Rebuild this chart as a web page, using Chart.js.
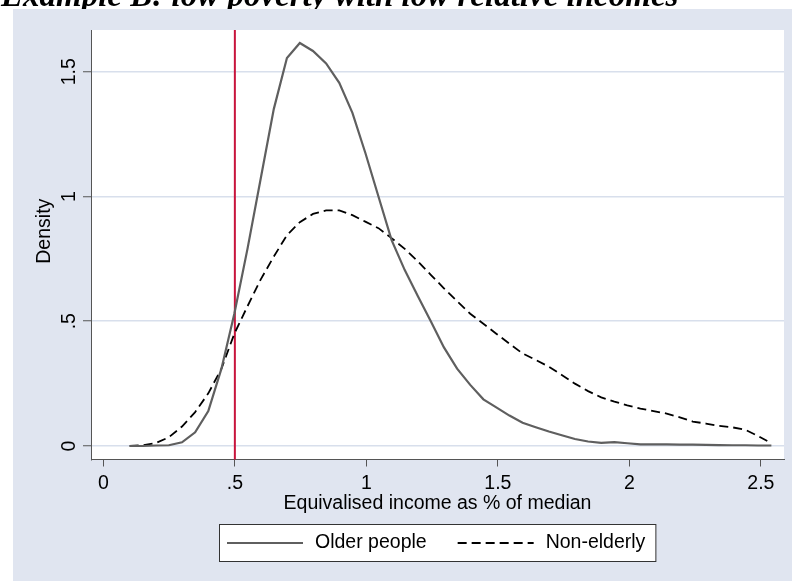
<!DOCTYPE html>
<html>
<head>
<meta charset="utf-8">
<script src="https://cdn.jsdelivr.net/npm/chart.js@4.4.0/dist/chart.umd.min.js"></script>
<style>
  html, body { margin: 0; padding: 0; background: #fff; }
  #wrap { width: 792px; height: 581px; }
</style>
</head>
<body>
<div id="wrap"><canvas id="c" width="792" height="581"></canvas></div>
<script>
// Kernel density estimates of equivalised income (share of median)
const incomeGrid = [0.100,0.150,0.200,0.249,0.299,0.349,0.399,0.449,0.498,0.548,
                    0.598,0.648,0.698,0.747,0.797,0.847,0.897,0.947,0.996,1.046,
                    1.096,1.146,1.196,1.245,1.295,1.345,1.395,1.445,1.494,1.544,
                    1.594,1.644,1.694,1.743,1.793,1.843,1.893,1.943,1.992,2.042,
                    2.092,2.142,2.192,2.241,2.291,2.341,2.391,2.441,2.490,2.540];

const olderPeople = [0.000,0.000,0.002,0.003,0.015,0.055,0.140,0.310,0.530,0.790,
                     1.070,1.350,1.555,1.615,1.583,1.533,1.455,1.335,1.175,1.000,
                     0.825,0.705,0.600,0.500,0.395,0.310,0.245,0.187,0.155,0.122,
                     0.093,0.075,0.058,0.043,0.028,0.018,0.013,0.016,0.011,0.007,
                     0.007,0.007,0.006,0.006,0.005,0.004,0.003,0.003,0.002,0.002];

const nonElderly = [0.000,0.003,0.012,0.035,0.078,0.136,0.211,0.310,0.450,0.560,
                    0.667,0.759,0.845,0.897,0.930,0.944,0.944,0.925,0.899,0.873,
                    0.833,0.790,0.740,0.686,0.632,0.580,0.530,0.490,0.450,0.410,
                    0.371,0.345,0.318,0.285,0.250,0.220,0.195,0.178,0.163,0.150,
                    0.140,0.130,0.115,0.098,0.090,0.081,0.075,0.065,0.040,0.011];

const seriesNames = ['Older people', 'Non-elderly'];
const xTicks = [0, 0.5, 1, 1.5, 2, 2.5];
const xTickLabels = ['0', '.5', '1', '1.5', '2', '2.5'];
const yTicks = [0, 0.5, 1, 1.5];
const yTickLabels = ['0', '.5', '1', '1.5'];
const povertyLine = 0.5;
const titleText = 'Example B: low poverty with low relative incomes';
const xTitle = 'Equivalised income as % of median';
// leading spaces lift the rotated axis title a little above the axis centre
const yTitle = '     Density';

const FONT = 'Liberation Sans';
const FS = 19.5;
const REGION = '#e0e5f0';
const GRID = '#d8dfec';
const AXIS = '#555555';

const toPoints = ys => incomeGrid.map((x, i) => ({ x: x, y: ys[i] }));

// Page background, heading, graph region and white plot region
const framePlugin = {
  id: 'frame',
  beforeDraw(chart) {
    const { ctx, chartArea: a, width, height } = chart;
    ctx.save();
    ctx.fillStyle = '#ffffff';
    ctx.fillRect(0, 0, width, height);
    ctx.fillStyle = '#000000';
    ctx.font = 'italic bold 33px "Liberation Serif"';
    ctx.textBaseline = 'alphabetic';
    ctx.textAlign = 'left';
    ctx.fillText(titleText, 1, 5.5);
    ctx.fillStyle = REGION;
    ctx.fillRect(13, 9, width - 13, height - 9);
    ctx.fillStyle = '#ffffff';
    ctx.fillRect(a.left, a.top, a.right - a.left, a.bottom - a.top);
    ctx.restore();
  },
  beforeDatasetsDraw(chart) {
    // vertical reference line at the poverty threshold
    const { ctx, chartArea: a, scales } = chart;
    const px = scales.x.getPixelForValue(povertyLine);
    ctx.save();
    ctx.strokeStyle = '#c8143c';
    ctx.lineWidth = 2;
    ctx.beginPath();
    ctx.moveTo(px, a.top);
    ctx.lineTo(px, a.bottom);
    ctx.stroke();
    ctx.restore();
  },
  afterDraw(chart) {
    // boxed legend centred under the plot
    const { ctx, chartArea: a } = chart;
    const ds = chart.data.datasets;
    ctx.save();
    ctx.font = FS + 'px "' + FONT + '"';
    const padL = 7.5, sample = 76, gapT = 12, gapItem = 31, padR = 10.5;
    const w0 = ctx.measureText(ds[0].label).width;
    const w1 = ctx.measureText(ds[1].label).width;
    const total = padL + sample + gapT + w0 + gapItem + sample + gapT + w1 + padR;
    const cx = (a.left + a.right) / 2;
    const left = Math.round(cx - total / 2) + 0.5;
    const top = 524.5, h = 37;
    const mid = top + h / 2;
    ctx.fillStyle = '#ffffff';
    ctx.fillRect(left, top, total, h);
    ctx.strokeStyle = '#333333';
    ctx.lineWidth = 1;
    ctx.strokeRect(left, top, total, h);
    let x = left + padL;
    [ [ds[0], w0], [ds[1], w1] ].forEach(([d, w]) => {
      ctx.strokeStyle = d.borderColor;
      ctx.lineWidth = d.borderWidth;
      ctx.setLineDash(d.borderDash || []);
      ctx.beginPath();
      ctx.moveTo(x, mid);
      ctx.lineTo(x + sample, mid);
      ctx.stroke();
      ctx.setLineDash([]);
      x += sample + gapT;
      ctx.fillStyle = '#000000';
      ctx.textBaseline = 'middle';
      ctx.textAlign = 'left';
      ctx.fillText(d.label, x, mid);
      x += w + gapItem;
    });
    ctx.restore();
  }
};

new Chart(document.getElementById('c'), {
  type: 'line',
  data: {
    datasets: [
      {
        label: seriesNames[0],
        data: toPoints(olderPeople),
        borderColor: '#5f5f5f',
        borderWidth: 2.2,
        pointRadius: 0,
        tension: 0,
        fill: false
      },
      {
        label: seriesNames[1],
        data: toPoints(nonElderly),
        borderColor: '#000000',
        borderWidth: 1.8,
        borderDash: [9, 5],
        pointRadius: 0,
        tension: 0,
        fill: false
      }
    ]
  },
  options: {
    responsive: false,
    animation: false,
    devicePixelRatio: 1,
    layout: { padding: { left: 0, right: 8, top: 30, bottom: 61 } },
    plugins: {
      legend: { display: false },
      tooltip: { enabled: false },
      title: { display: false }
    },
    scales: {
      x: {
        type: 'linear',
        min: -0.047,
        max: 2.588,
        afterBuildTicks: s => { s.ticks = xTicks.map(v => ({ value: v })); },
        afterFit: s => { s.height = 60.5; },
        ticks: {
          autoSkip: false,
          maxRotation: 0,
          padding: 5,
          color: '#000000',
          font: { family: FONT, size: FS },
          callback: v => xTickLabels[xTicks.indexOf(v)]
        },
        grid: { drawOnChartArea: false, drawTicks: true, tickLength: 7, tickColor: AXIS, tickWidth: 1 },
        border: { display: true, color: AXIS, width: 1 },
        title: {
          display: true,
          text: xTitle,
          color: '#000000',
          font: { family: FONT, size: FS },
          padding: { top: 0, bottom: 5 }
        }
      },
      y: {
        type: 'linear',
        min: -0.054,
        max: 1.667,
        afterBuildTicks: s => { s.ticks = yTicks.map(v => ({ value: v })); },
        afterFit: s => { s.width = 91; },
        ticks: {
          autoSkip: false,
          minRotation: 90,
          maxRotation: 90,
          crossAlign: 'center',
          padding: 0,
          color: '#000000',
          font: { family: FONT, size: FS },
          callback: v => yTickLabels[yTicks.indexOf(v)]
        },
        grid: { drawOnChartArea: true, color: GRID, lineWidth: 1.5, drawTicks: true, tickLength: 8, tickColor: AXIS, tickWidth: 1 },
        border: { display: true, color: AXIS, width: 1 },
        title: {
          display: true,
          text: yTitle,
          color: '#000000',
          font: { family: FONT, size: FS },
          padding: { top: 33, bottom: 0 }
        }
      }
    }
  },
  plugins: [framePlugin]
});
</script>
</body>
</html>
